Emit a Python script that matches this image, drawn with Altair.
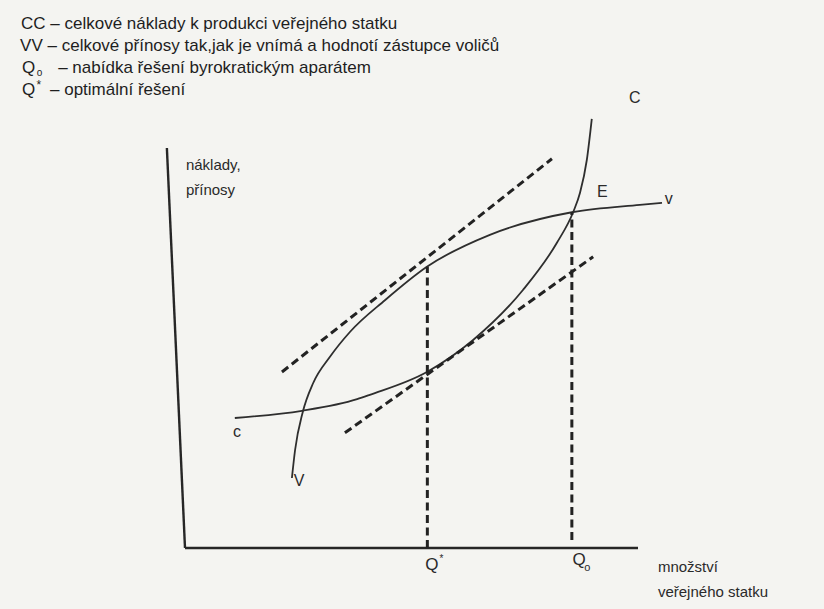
import altair as alt
import pandas as pd

# Quantity of the public good (x) against costs / benefits (y), arbitrary units
cost_q = [1.10, 2.58, 3.80, 4.08, 5.34, 6.36, 7.46, 8.21, 8.57, 8.72, 8.87, 8.98]
cost_v = [3.25, 3.43, 3.72, 3.83, 4.40, 5.20, 6.45, 7.63, 8.40, 8.88, 9.70, 10.73]

benefit_q = [2.36, 2.43, 2.60, 2.83, 3.20, 3.64, 4.42, 5.34, 6.73, 8.57, 10.04, 10.53]
benefit_v = [1.75, 2.45, 3.40, 4.125, 4.78, 5.40, 6.20, 7.03, 7.83, 8.40, 8.58, 8.63]

# Parallel tangents (equal slopes of CC and VV at Q*)
tangent_upper_q = [2.14, 8.10]
tangent_upper_v = [4.40, 9.73]
tangent_lower_q = [3.53, 9.01]
tangent_lower_v = [2.88, 7.28]

# Optimum Q* and the bureaucratic offer Qo (point E)
q_star, q_star_level = 5.35, 7.03
q_o, q_o_level, q_o_base = 8.54, 8.40, 0.20

# Axis lines
x_axis_q, x_axis_v = [0.0, 10.0], [0.0, 0.0]
y_axis_q, y_axis_v = [0.0, -0.40], [0.0, 10.0]


def series(name, qs, vs):
    return pd.DataFrame({"q": qs, "v": vs, "s": name})


curves = pd.concat([series("CC", cost_q, cost_v), series("VV", benefit_q, benefit_v)])
axes = pd.concat([series("x", x_axis_q, x_axis_v), series("y", y_axis_q, y_axis_v)])
dashed = pd.concat([
    series("upper", tangent_upper_q, tangent_upper_v),
    series("lower", tangent_lower_q, tangent_lower_v),
    series("qstar", [q_star, q_star], [0.0, q_star_level]),
    series("qo", [q_o, q_o], [q_o_base, q_o_level]),
])

xs = alt.Scale(domain=[0, 10], nice=False, zero=False)
ys = alt.Scale(domain=[0, 10], nice=False, zero=False)
X = alt.X("q:Q", scale=xs, axis=None)
Y = alt.Y("v:Q", scale=ys, axis=None)

ink = "#2e2e2e"

curve_layer = alt.Chart(curves).mark_line(
    color=ink, strokeWidth=1.8, interpolate="monotone"
).encode(x=X, y=Y, detail="s:N")

axis_layer = alt.Chart(axes).mark_line(
    color="#262626", strokeWidth=2.4
).encode(x=X, y=Y, detail="s:N")

dash_layer = alt.Chart(dashed).mark_line(
    color="#222222", strokeWidth=3, strokeDash=[8, 4.5]
).encode(x=X, y=Y, detail="s:N")

# Key above the diagram
header = pd.DataFrame([
    (-3.62, 13.10, "CC – celkové náklady k produkci veřejného statku", 17),
    (-3.64, 12.55, "VV – celkové přínosy tak,jak je vnímá a hodnotí zástupce voličů", 17),
    (-3.60, 11.99, "Q", 17),
    (-3.27, 11.87, "o", 10),
    (-2.80, 12.00, "– nabídka řešení byrokratickým aparátem", 17),
    (-3.60, 11.45, "Q", 17),
    (-3.28, 11.57, "*", 12),
    (-2.98, 11.45, "– optimální řešení", 17),
], columns=["q", "v", "t", "fs"])

header_layer = alt.Chart(header).mark_text(
    align="left", baseline="middle", font="Liberation Sans", color="#1e1e1e"
).encode(x=X, y=Y, text="t:N", size=alt.Size("fs:Q", scale=None, legend=None))

# Labels inside the diagram
left_labels = pd.DataFrame([
    (0.02, 9.575, "náklady,", 15),
    (0.02, 8.95, "přínosy", 15),
    (10.44, -0.475, "množství", 15),
    (10.44, -1.10, "veřejného statku", 15),
], columns=["q", "v", "t", "fs"])

center_labels = pd.DataFrame([
    (9.93, 11.25, "C", 16),
    (9.21, 8.90, "E", 16),
    (10.68, 8.72, "v", 16),
    (1.15, 2.90, "c", 16),
    (2.52, 1.68, "V", 16),
    (5.45, -0.43, "Q", 17),
    (5.66, -0.27, "*", 10),
    (8.70, -0.30, "Q", 17),
    (8.88, -0.49, "o", 11),
], columns=["q", "v", "t", "fs"])

left_layer = alt.Chart(left_labels).mark_text(
    align="left", baseline="middle", font="Liberation Sans", color="#2a2a2a"
).encode(x=X, y=Y, text="t:N", size=alt.Size("fs:Q", scale=None, legend=None))

center_layer = alt.Chart(center_labels).mark_text(
    align="center", baseline="middle", font="Liberation Sans", color="#2a2a2a"
).encode(x=X, y=Y, text="t:N", size=alt.Size("fs:Q", scale=None, legend=None))

chart = alt.layer(
    axis_layer, curve_layer, dash_layer, header_layer, left_layer, center_layer
).properties(
    width=453,
    height=400,
    padding={"left": 185, "top": 148, "right": 186, "bottom": 61},
    autosize=alt.AutoSizeParams(type="none"),
    background="#f4f4f1",
).configure_view(stroke=None)

chart.save("out.html", embed_options={"renderer": "svg", "actions": False})
